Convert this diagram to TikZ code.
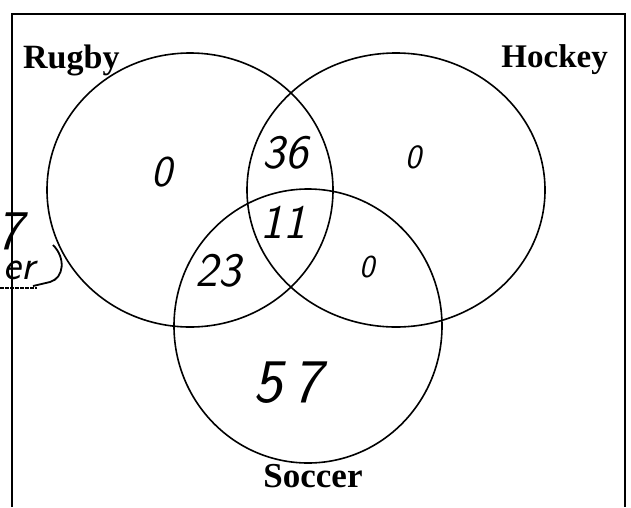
\documentclass[tikz,border=0pt]{standalone}
\usepackage{fontspec}
\setmainfont{Liberation Serif}
\usetikzlibrary{positioning}

\begin{document}
\begin{tikzpicture}[
  x=1pt, y=-1pt,
  conj/.style={line width=1.6pt},
  etiq/.style={font=\fontsize{#1}{#1}\selectfont\bfseries, inner sep=0pt},
  etiq/.default=33,
  mano/.style={font=\fontsize{#1}{#1}\selectfont\sffamily\slshape, inner sep=0pt},
  mano/.default=48
]
  \useasboundingbox (0,0) rectangle (631,507);
  \clip (0,0) rectangle (631,507);

  % Centros de los conjuntos
  \coordinate (R) at (190,190);
  \coordinate (H) at (396,190);
  \coordinate (S) at (308,326);

  % --- Marco (sin borde inferior) ---
  \draw[line width=2pt] (12,507) -- (12,14) -- (625,14) -- (625,507);

  % --- Conjuntos ---
  \draw[conj] (R) ellipse [x radius=143pt, y radius=137pt];
  \draw[conj] (H) ellipse [x radius=149pt, y radius=137pt];
  \draw[conj] (S) ellipse [x radius=134pt, y radius=137pt];

  % --- Nombres ---
  \node[etiq=34, anchor=base west] (rugby)  at (23,68)  {Rugby};
  \node[etiq, anchor=base east]    (hockey) at (608,67) {Hockey};
  \node[etiq=35, anchor=base]      (soccer) at (313,487) {Soccer};

  % --- Cantidades escritas a mano ---
  \node[mano=44] (soloR)  at (162,172) {0};
  \node[mano]    (RH)     at (285,153) {36};
  \node[mano=34] (soloH)  at (413,157) {0};
  \node[mano]    (RHS)    at (283,222) {11};
  \node[mano]    (RS)     at (218,271) {23};
  \node[mano=32] (HS)     at (367,267) {0};
  \node[mano=62] (soloS)  at (288,383) {5\hspace{10pt}7};

  % --- Nota al margen (cortada) ---
  \node[mano=56] (nota7)  at (10,231) {7};
  \node[mano=42] (notaer) at (19,270) {er};
  \draw[line width=1.8pt] (53,245) .. controls (66,258) and (64,278) .. (50,282) -- (33,286);
  \draw[line width=1.6pt, dash pattern=on 4pt off 1pt] (0,288) -- (37,288);

\end{tikzpicture}
\end{document}
